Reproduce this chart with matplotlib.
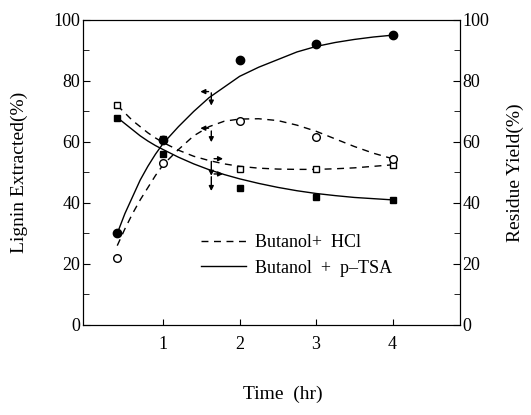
import numpy as np
import matplotlib
matplotlib.use("Agg")
import matplotlib.pyplot as plt
from matplotlib.lines import Line2D

plt.rcParams['font.family'] = ['Liberation Serif', 'DejaVu Serif']

# measured points
t_pts = [0.4, 1, 2, 3, 4]
lignin_ptsa = [30, 60.5, 87, 92, 95]
lignin_hcl = [22, 53, 67, 61.5, 54.5]
resid_ptsa = [68, 56, 45, 42, 41]
resid_hcl = [72, 61, 51, 51, 52.5]

# smooth curves
t_curve = [0.4, 0.5, 0.6, 0.7, 0.8, 0.9, 1.0, 1.2, 1.4, 1.6, 1.8, 2.0,
           2.25, 2.5, 2.75, 3.0, 3.25, 3.5, 3.75, 4.0]
lignin_ptsa_c = [30, 36.5, 42, 47.5, 52, 56, 59.5, 65, 70, 74.5, 78, 81.5,
                 84.5, 87, 89.5, 91.3, 92.6, 93.6, 94.4, 95]
lignin_hcl_c = [26, 31.5, 36.5, 41, 45, 49, 52.5, 57.5, 62, 65, 66.8, 67.5,
                67.6, 67, 65.5, 63.5, 61, 58.5, 56.3, 54.5]
resid_ptsa_c = [68, 66, 64, 62, 60.3, 58.8, 57.5, 55, 52.8, 50.9, 49.3, 47.9,
                46.4, 45.1, 44, 43.1, 42.4, 41.8, 41.4, 41]
resid_hcl_c = [72, 69.5, 67, 65, 63, 61.3, 59.8, 57.3, 55.3, 53.9, 52.8, 52,
               51.4, 51.1, 51, 51, 51.2, 51.5, 52, 52.5]

fig = plt.figure(figsize=(5.31, 4.15), dpi=100)
ax = fig.add_axes([0.156, 0.217, 0.710, 0.735])

ax.plot(t_curve, lignin_ptsa_c, 'k-', lw=1.0)
ax.plot(t_curve, resid_ptsa_c, 'k-', lw=1.0)
ax.plot(t_curve, lignin_hcl_c, 'k--', lw=1.0, dashes=(5, 4))
ax.plot(t_curve, resid_hcl_c, 'k--', lw=1.0, dashes=(5, 4))

ax.plot(t_pts, resid_hcl, 's', mfc='white', mec='k', mew=1.0, ms=5, zorder=3)
ax.plot(t_pts, lignin_hcl, 'o', mfc='white', mec='k', mew=1.0, ms=5.5, zorder=3)
ax.plot(t_pts, resid_ptsa, 's', color='k', ms=5, zorder=4)
ax.plot(t_pts, lignin_ptsa, 'o', color='k', ms=6, zorder=5)

# axis-indicator arrows
arr = dict(arrowstyle='-|>', color='k', lw=1.0, mutation_scale=7)
ax.annotate('', xy=(1.45, 76.5), xytext=(1.63, 76.5), arrowprops=arr)
ax.annotate('', xy=(1.63, 71), xytext=(1.63, 77), arrowprops=arr)
ax.annotate('', xy=(1.45, 64.5), xytext=(1.63, 64.5), arrowprops=arr)
ax.annotate('', xy=(1.63, 59), xytext=(1.63, 64.5), arrowprops=arr)
ax.annotate('', xy=(1.82, 54.5), xytext=(1.63, 54.5), arrowprops=arr)
ax.annotate('', xy=(1.63, 48), xytext=(1.63, 54.5), arrowprops=arr)
ax.annotate('', xy=(1.82, 49.5), xytext=(1.63, 49.5), arrowprops=arr)
ax.annotate('', xy=(1.63, 43), xytext=(1.63, 49.5), arrowprops=arr)

ax.set_xlim(-0.05, 4.88)
ax.set_ylim(0, 100)
ax.set_xticks([1, 2, 3, 4])
ax.set_yticks(np.arange(0, 101, 20))
ax.set_yticks(np.arange(0, 101, 10), minor=True)
ax.tick_params(axis='both', which='both', direction='in', labelsize=13, top=False)
ax.tick_params(axis='y', which='major', length=5, pad=2)
ax.tick_params(axis='y', which='minor', length=4)
ax.tick_params(axis='x', length=4, pad=8)
ax.set_xlabel('Time  (hr)', fontsize=14)
ax.xaxis.set_label_coords(0.53, -0.2)
ax.set_ylabel('Lignin Extracted(%)', fontsize=14)
ax.yaxis.set_label_coords(-0.145, 0.5)

ax2 = ax.twinx()
ax2.set_ylim(0, 100)
ax2.set_yticks(np.arange(0, 101, 20))
ax2.set_yticks(np.arange(0, 101, 10), minor=True)
ax2.tick_params(axis='y', which='both', direction='in', labelsize=13, pad=2)
ax2.tick_params(axis='y', which='major', length=5)
ax2.tick_params(axis='y', which='minor', length=4)
ax2.set_ylabel('Residue Yield(%)', fontsize=14)
ax2.yaxis.set_label_coords(1.125, 0.5)

handles = [Line2D([0], [0], color='k', lw=1.0, ls=(0, (5, 4)), label='Butanol+  HCl'),
           Line2D([0], [0], color='k', lw=1.0, label='Butanol  +  p\u2013TSA')]
ax.legend(handles=handles, loc='upper left', bbox_to_anchor=(0.27, 0.35), frameon=False,
          fontsize=13, handlelength=2.5, handletextpad=0.5, labelspacing=0.45)

fig.savefig('out.png', dpi=100)
